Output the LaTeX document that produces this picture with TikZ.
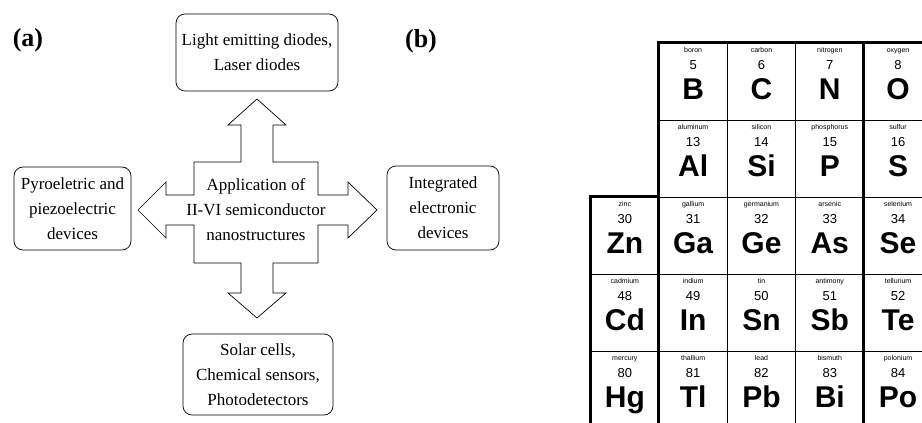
\documentclass[tikz,border=0pt]{standalone}
\usepackage{fontspec}
\setmainfont{Liberation Serif}
\setsansfont{Liberation Sans}
\usetikzlibrary{calc}

\tikzset{
  appbox/.style={draw,rounded corners=9pt,line width=0.7pt,align=center,inner sep=0pt,
    font=\fontsize{17}{25}\selectfont},
  panel/.style={font=\fontsize{26}{26}\selectfont\bfseries,inner sep=0pt},
  cellbox/.style={draw,line width=0.9pt,minimum width=68.3pt,minimum height=77pt,inner sep=0pt},
  elname/.style={font=\sffamily\fontsize{7}{7}\selectfont,inner sep=0pt,anchor=base},
  elnum/.style={font=\sffamily\fontsize{13}{13}\selectfont,inner sep=0pt,anchor=base},
  elsym/.style={font=\sffamily\bfseries\fontsize{30}{30}\selectfont,inner sep=0pt,anchor=base},
  thickrule/.style={line width=3pt}
}

\begin{document}
\begin{tikzpicture}[x=1pt,y=-1pt]
  \useasboundingbox (0,0) rectangle (922,423);

  % (a) Anwendungen
  \node[panel] (lbla) at (28,40) {(a)};
  \node[appbox,minimum width=162pt,minimum height=77pt] (led) at (257,52.5)
    {Light emitting diodes,\\Laser diodes};
  \node[appbox,minimum width=117pt,minimum height=83pt] (pyro) at (72.5,208.5)
    {Pyroeletric and\\piezoelectric\\devices};
  \node[appbox,minimum width=112pt,minimum height=84pt] (ic) at (443,208)
    {Integrated\\electronic\\devices};
  \node[appbox,minimum width=150pt,minimum height=81pt] (solar) at (258,374.5)
    {Solar cells,\\Chemical sensors,\\Photodetectors};

  % Kreuzpfeil
  \draw[line width=0.7pt] (166,195) -- (194,195) -- (194,162) -- (241,162) -- (241,125)
    -- (228,125) -- (257,99) -- (286,125) -- (273,125) -- (273,162) -- (318,162)
    -- (318,195) -- (348,195) -- (348,182) -- (377,210) -- (348,238) -- (348,225)
    -- (318,225) -- (318,263) -- (273,263) -- (273,293) -- (286,293) -- (257,318)
    -- (228,293) -- (241,293) -- (241,263) -- (194,263) -- (194,225) -- (166,225)
    -- (166,238) -- (138,210) -- (166,182) -- cycle;
  \node[align=center,inner sep=0pt,font=\fontsize{17}{25}\selectfont] (core) at (256,210)
    {Application of\\II-VI semiconductor\\nanostructures};

  % (b) Ausschnitt Periodensystem
  \node[panel] (lblb) at (421,41) {(b)};
  \begin{scope}
    \clip (0,0) rectangle (922,423);
    \foreach \c/\r/\num/\sym/\nm in {
        1/0/5/B/boron, 2/0/6/C/carbon, 3/0/7/N/nitrogen, 4/0/8/O/oxygen,
        1/1/13/Al/aluminum, 2/1/14/Si/silicon, 3/1/15/P/phosphorus, 4/1/16/S/sulfur,
        0/2/30/Zn/zinc, 1/2/31/Ga/gallium, 2/2/32/Ge/germanium, 3/2/33/As/arsenic, 4/2/34/Se/selenium,
        0/3/48/Cd/cadmium, 1/3/49/In/indium, 2/3/50/Sn/tin, 3/3/51/Sb/antimony, 4/3/52/Te/tellurium,
        0/4/80/Hg/mercury, 1/4/81/Tl/thallium, 2/4/82/Pb/lead, 3/4/83/Bi/bismuth, 4/4/84/Po/polonium}{
      \node[cellbox] (cell\sym) at ({624.85+68.3*\c},{81.5+77*\r}) {};
      \node[elname] (name\sym) at ($(cell\sym.north)+(0,10)$) {\nm};
      \node[elnum] (num\sym) at ($(cell\sym.north)+(0,27)$) {\num};
      \node[elsym] (sym\sym) at ($(cell\sym.north)+(0,57)$) {\sym};
    }
    \draw[thickrule] (cellHg.south west) -- (cellZn.north west) -- (cellZn.north east);
    \draw[thickrule] (cellTl.south west) -- (cellB.north west) -- (cellO.north east);
    \draw[thickrule] (cellPo.south west) -- (cellO.north west);
  \end{scope}
\end{tikzpicture}
\end{document}
